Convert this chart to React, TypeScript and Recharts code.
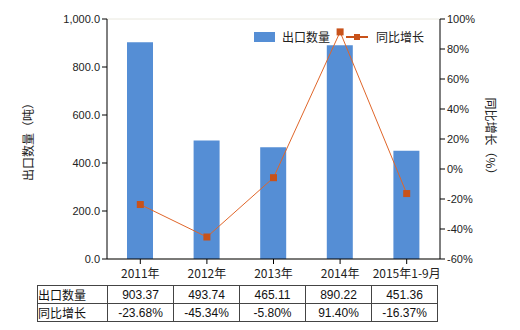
import { ComposedChart, Bar, Line, XAxis, YAxis, CartesianGrid } from 'recharts';

const categories = ['2011年', '2012年', '2013年', '2014年', '2015年1-9月'];
const exportQty = [903.37, 493.74, 465.11, 890.22, 451.36];
const yoyGrowth = [-23.68, -45.34, -5.8, 91.4, -16.37];
const leftTicks = [0, 200, 400, 600, 800, 1000];
const rightTicks = [-60, -40, -20, 0, 20, 40, 60, 80, 100];

const BAR = '#558ed5';
const LINE = '#e0662a';
const MARK = '#c8521a';
const CJK = '"Noto Sans CJK SC", sans-serif';
const NUM = '"Liberation Sans", Arial, sans-serif';

const data = categories.map((c, i) => ({ name: c, qty: exportQty[i], yoy: yoyGrowth[i] }));

const SquareDot = (props: any) => {
  const { cx, cy } = props;
  if (cx == null || cy == null) return null;
  return <rect x={cx - 3.5} y={cy - 3.5} width={7} height={7} fill={MARK} />;
};

const LegendBox = () => (
  <div
    style={{
      position: 'absolute',
      left: 254,
      top: 28,
      display: 'flex',
      alignItems: 'center',
      fontFamily: CJK,
      fontSize: 12,
      color: '#222',
    }}
  >
    <span style={{ width: 21, height: 10, background: BAR, display: 'inline-block' }} />
    <span style={{ marginLeft: 7 }}>出口数量</span>
    <svg width={22} height={10} style={{ marginLeft: 16 }}>
      <line x1={0} y1={5} x2={22} y2={5} stroke={MARK} strokeWidth={2} />
      <rect x={8} y={2} width={6} height={6} fill={MARK} />
    </svg>
    <span style={{ marginLeft: 8 }}>同比增长</span>
  </div>
);

const cell: React.CSSProperties = {
  border: '1px solid #444',
  padding: 0,
  height: 16,
  textAlign: 'center',
  fontFamily: NUM,
  fontSize: 12,
  color: '#111',
};

export default function App() {
  return (
    <div style={{ position: 'fixed', left: 0, top: 0, width: 520, height: 330, background: '#fff' }}>
      <ComposedChart width={520} height={330} data={data} margin={{ top: 19, right: 0, bottom: 46, left: 0 }}>
        <CartesianGrid vertical={false} stroke="#e9e8de" />
        <XAxis
          dataKey="name"
          height={25}
          tickSize={5}
          stroke="#000"
          dy={3}
          tick={{ fill: '#222', fontSize: 12, fontFamily: CJK }}
        />
        <YAxis
          yAxisId="left"
          width={107}
          domain={[0, 1000]}
          ticks={leftTicks}
          tickSize={5}
          stroke="#000"
          tick={{ fill: '#222', fontSize: 11, fontFamily: NUM }}
          tickFormatter={(v: number) => v.toLocaleString('en-US', { minimumFractionDigits: 1, maximumFractionDigits: 1 })}
          label={{
            value: '出口数量（吨）',
            angle: -90,
            position: 'insideLeft',
            offset: 29,
            style: { textAnchor: 'middle', fill: '#222', fontSize: 12, fontFamily: CJK },
          }}
        />
        <YAxis
          yAxisId="right"
          orientation="right"
          width={80}
          domain={[-60, 100]}
          ticks={rightTicks}
          tickSize={5}
          stroke="#000"
          tick={{ fill: '#222', fontSize: 11, fontFamily: NUM }}
          tickFormatter={(v: number) => `${v}%`}
          label={{
            value: '同比增长（%）',
            angle: 90,
            position: 'insideRight',
            offset: 30,
            style: { textAnchor: 'middle', fill: '#222', fontSize: 12, fontFamily: CJK },
          }}
        />
        <Bar yAxisId="left" dataKey="qty" fill={BAR} barSize={26} isAnimationActive={false} />
        <Line
          yAxisId="right"
          dataKey="yoy"
          stroke={LINE}
          strokeWidth={1}
          dot={<SquareDot />}
          activeDot={false}
          isAnimationActive={false}
        />
      </ComposedChart>
      <LegendBox />
      <table
        style={{
          position: 'absolute',
          left: 37,
          top: 285,
          borderCollapse: 'collapse',
          tableLayout: 'fixed',
        }}
      >
        <colgroup>
          <col style={{ width: 70 }} />
          {categories.map((c) => (
            <col key={c} style={{ width: 66 }} />
          ))}
        </colgroup>
        <tbody>
          <tr>
            <td style={{ ...cell, textAlign: 'left', fontFamily: CJK }}>出口数量</td>
            {exportQty.map((v, i) => (
              <td key={i} style={cell}>{v.toFixed(2)}</td>
            ))}
          </tr>
          <tr>
            <td style={{ ...cell, textAlign: 'left', fontFamily: CJK }}>同比增长</td>
            {yoyGrowth.map((v, i) => (
              <td key={i} style={cell}>{v.toFixed(2)}%</td>
            ))}
          </tr>
        </tbody>
      </table>
    </div>
  );
}
